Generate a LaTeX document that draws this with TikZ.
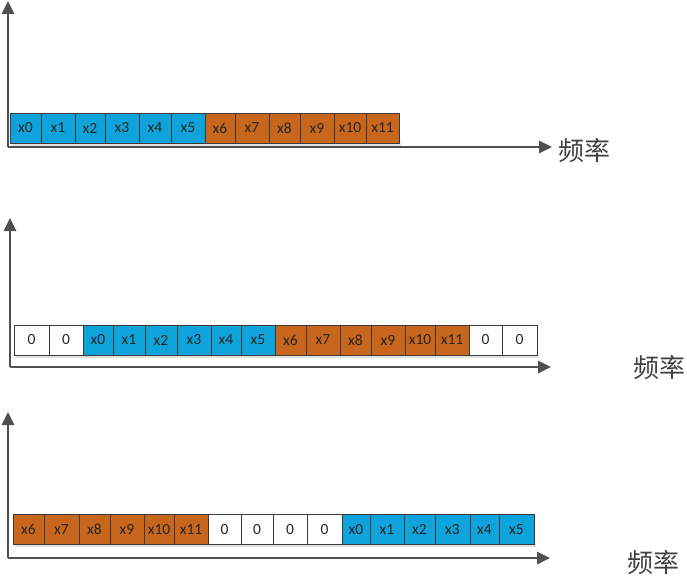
\documentclass[tikz,border=0pt]{standalone}
\usepackage{fontspec}
\setmainfont{Carlito}
\newfontfamily\cjk{Noto Sans CJK SC}
\usetikzlibrary{arrows.meta}
\definecolor{cblue}{HTML}{0FA3DC}
\definecolor{corange}{HTML}{C8661E}
\definecolor{axisgray}{HTML}{505050}
\definecolor{cellline}{HTML}{3A3A3A}
\tikzset{
  cell/.style={draw=cellline, line width=0.8pt, inner sep=0pt, minimum height=30pt,
    font=\fontsize{15.5}{16}\selectfont, text=black!85},
  axis/.style={draw=axisgray, line width=1.8pt, -{Triangle[length=13pt,width=12.5pt]}},
  freq/.style={font=\cjk\fontsize{26}{28}\selectfont, text=black!75, inner sep=0pt},
  shade/.style={fill=black!12, draw=none}
}
\begin{document}
\begin{tikzpicture}[x=1pt,y=-1pt]
\useasboundingbox (0,0) rectangle (687,578);
% ---------- panel 1
\coordinate (o1) at (8,147);
\coordinate (t1) at (8,1);
\coordinate (r1) at (552,147);
\fill[shade] (12,143) rectangle (401,146);
\foreach \a/\b/\t/\c [count=\i] in {10/41/x0/cblue,41/75/x1/cblue,75/105/x2/cblue,105/139/x3/cblue,139/171/x4/cblue,171/205/x5/cblue,205/235/x6/corange,235/269/x7/corange,269/300/x8/corange,300/334/x9/corange,334/366/x10/corange,366/399/x11/corange}
  \node[cell, fill=\c, minimum width={(\b-\a)*1pt}] (p1c\i) at ({(\a+\b)/2},128) {\t};
\draw[axis] (o1) -- (t1);
\draw[axis] (o1) -- (r1);
\node[freq] (f1) at (584,151) {频率};
% ---------- panel 2
\coordinate (o2) at (10,367);
\coordinate (t2) at (10,218);
\coordinate (r2) at (551,367);
\fill[shade] (16,355) rectangle (539,358);
\foreach \a/\b/\t/\c [count=\i] in {14/49/0/white,49/83/0/white,83/113/x0/cblue,113/145/x1/cblue,145/177/x2/cblue,177/211/x3/cblue,211/241/x4/cblue,241/275/x5/cblue,275/306/x6/corange,306/340/x7/corange,340/371/x8/corange,371/405/x9/corange,405/435/x10/corange,435/469/x11/corange,469/502/0/white,502/537/0/white}
  \node[cell, fill=\c, minimum width={(\b-\a)*1pt}] (p2c\i) at ({(\a+\b)/2},340) {\t};
\draw[axis] (o2) -- (t2);
\draw[axis] (o2) -- (r2);
\node[freq] (f2) at (659,368) {频率};
% ---------- panel 3
\coordinate (o3) at (8,558);
\coordinate (t3) at (8,412);
\coordinate (r3) at (550,558);
\fill[shade] (15,544) rectangle (536,547);
\foreach \a/\b/\t/\c [count=\i] in {13/44/x6/corange,44/79/x7/corange,79/110/x8/corange,110/144/x9/corange,144/174/x10/corange,174/208/x11/corange,208/241/0/white,241/273/0/white,273/307/0/white,307/342/0/white,342/370/x0/cblue,370/404/x1/cblue,404/435/x2/cblue,435/470/x3/cblue,470/499/x4/cblue,499/534/x5/cblue}
  \node[cell, fill=\c, minimum width={(\b-\a)*1pt}] (p3c\i) at ({(\a+\b)/2},529.5) {\t};
\draw[axis] (o3) -- (t3);
\draw[axis] (o3) -- (r3);
\node[freq] (f3) at (653,563) {频率};
\end{tikzpicture}
\end{document}
